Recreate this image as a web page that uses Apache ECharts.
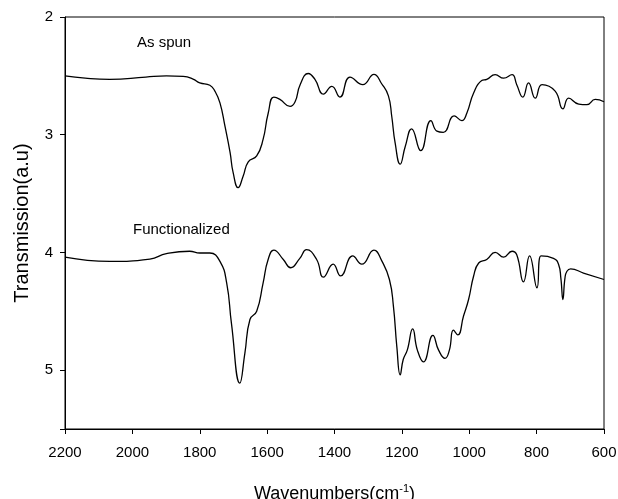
<!DOCTYPE html>
<html>
<head>
<meta charset="utf-8">
<script src="https://cdn.jsdelivr.net/npm/echarts@6/dist/echarts.min.js"></script>
<style>
  html, body { margin: 0; padding: 0; background: #fff; }
  #ftirChart { width: 618px; height: 499px; }
</style>
</head>
<body>
<div id="ftirChart"></div>
<script>
// wavenumber ticks (axis runs 2200 -> 600)
const xTicks = [2200, 2000, 1800, 1600, 1400, 1200, 1000, 800, 600];
const yTicks = [2, 3, 4, 5];

// "As spun" spectrum
const spunWn = [2200, 2140, 2067, 1960, 1899, 1849, 1820, 1800, 1770, 1755, 1740, 1725, 1710, 1701, 1686, 1671, 1656, 1631, 1612, 1597, 1580, 1562, 1532, 1517, 1502, 1478, 1458, 1433, 1408, 1384, 1354, 1316, 1283, 1260, 1240, 1230, 1220, 1205, 1190, 1171, 1144, 1114, 1096, 1077, 1045, 1022, 1007, 987, 963, 948, 923, 898, 873, 859, 841, 824, 804, 784, 745, 722, 705, 675, 651, 626, 600];
const spunT = [2.50, 2.52, 2.53, 2.51, 2.50, 2.505, 2.527, 2.56, 2.58, 2.63, 2.73, 2.93, 3.15, 3.32, 3.45, 3.35, 3.23, 3.18, 3.04, 2.82, 2.68, 2.70, 2.76, 2.72, 2.575, 2.48, 2.53, 2.655, 2.59, 2.68, 2.51, 2.575, 2.487, 2.567, 2.67, 2.845, 3.07, 3.25, 3.10, 2.95, 3.136, 2.88, 2.97, 2.98, 2.84, 2.88, 2.815, 2.645, 2.54, 2.53, 2.49, 2.52, 2.49, 2.575, 2.68, 2.56, 2.69, 2.575, 2.63, 2.78, 2.69, 2.74, 2.745, 2.70, 2.72];

// "Functionalized" spectrum
const funcWn = [2200, 2067, 1948, 1899, 1830, 1800, 1770, 1740, 1720, 1706, 1681, 1666, 1651, 1631, 1612, 1597, 1580, 1552, 1530, 1503, 1483, 1453, 1433, 1404, 1382, 1346, 1319, 1283, 1260, 1237, 1225, 1215, 1205, 1196, 1184, 1168, 1154, 1136, 1108, 1091, 1072, 1059, 1047, 1034, 1017, 1002, 987, 972, 948, 923, 898, 873, 859, 839, 821, 799, 787, 750, 735, 728, 722, 716, 710, 699, 661, 600];
const funcT = [4.04, 4.076, 4.056, 4.011, 3.99, 4.005, 4.005, 4.076, 4.26, 4.60, 5.11, 4.855, 4.57, 4.50, 4.26, 4.06, 3.98, 4.06, 4.13, 4.05, 3.977, 4.06, 4.21, 4.10, 4.20, 4.03, 4.10, 3.98, 4.07, 4.23, 4.46, 4.80, 5.04, 4.91, 4.83, 4.65, 4.83, 4.93, 4.705, 4.83, 4.90, 4.83, 4.66, 4.70, 4.54, 4.40, 4.20, 4.09, 4.06, 4.00, 4.04, 3.99, 4.02, 4.25, 4.03, 4.30, 4.03, 4.05, 4.10, 4.22, 4.40, 4.22, 4.16, 4.14, 4.175, 4.23];

const pairs = (xs, ys) => xs.map((x, i) => [x, ys[i]]);
const font = '"Liberation Sans", Arial, sans-serif';

const chart = echarts.init(document.getElementById('ftirChart'));
chart.setOption({
  animation: false,
  grid: {
    left: 65, right: 14, top: 17, bottom: 70,
    outerBoundsMode: 'none',
    show: true, borderColor: '#000', borderWidth: 1
  },
  xAxis: {
    type: 'value',
    min: 600, max: 2200, interval: 200,
    inverse: true,
    name: '{n|Wavenumbers(cm}{s|-1}{n|)}',
    nameLocation: 'middle',
    nameGap: 54,
    nameTextStyle: {
      rich: {
        n: { fontSize: 18, fontFamily: font, color: '#000', lineHeight: 22 },
        s: { fontSize: 11, fontFamily: font, color: '#000', verticalAlign: 'top', lineHeight: 22, padding: [0, 0, 10, 0] }
      }
    },
    splitLine: { show: false },
    axisLine: { lineStyle: { color: '#000', width: 1 } },
    axisTick: { show: true, inside: false, length: 5, lineStyle: { color: '#000', width: 1 } },
    axisLabel: {
      customValues: xTicks, fontSize: 15, fontFamily: font, color: '#000', margin: 16,
      formatter: v => String(v)
    }
  },
  yAxis: {
    type: 'value',
    min: 2, max: 5.5, interval: 1,
    inverse: true,
    name: 'Transmission(a.u)',
    nameLocation: 'middle',
    nameGap: 33,
    nameTextStyle: { fontSize: 20, fontFamily: font, color: '#000' },
    splitLine: { show: false },
    axisLine: { lineStyle: { color: '#000', width: 1 } },
    axisTick: { show: true, inside: false, length: 5, lineStyle: { color: '#000', width: 1 } },
    axisLabel: { customValues: yTicks, fontSize: 15, fontFamily: font, color: '#000', margin: 12 }
  },
  graphic: [
    { type: 'text', left: 137, top: 35, style: { text: 'As spun', font: '15px ' + font, fill: '#000' } },
    { type: 'text', left: 133, top: 222, style: { text: 'Functionalized', font: '15px ' + font, fill: '#000' } }
  ],
  series: [
    {
      name: 'As spun', type: 'line', data: pairs(spunWn, spunT),
      showSymbol: false, smooth: 0.5,
      lineStyle: { color: '#000', width: 1.3 }
    },
    {
      name: 'Functionalized', type: 'line', data: pairs(funcWn, funcT),
      showSymbol: false, smooth: 0.5,
      lineStyle: { color: '#000', width: 1.3 }
    }
  ]
});
</script>
</body>
</html>
